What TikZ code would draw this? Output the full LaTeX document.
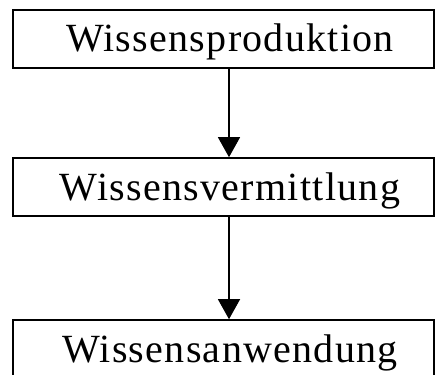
\documentclass[tikz,border=0pt]{standalone}
\usepackage{fontspec}
\setmainfont{Liberation Serif}
\newfontfamily\stagefont[LetterSpace=3.2]{Liberation Serif}
\usepackage{tikz}
\usetikzlibrary{arrows.meta}
\tikzset{>={Triangle[length=20pt,width=22pt]}}
\tikzset{stage/.style={draw, line width=1.6pt, minimum width=421pt, minimum height=58pt,
    inner sep=0pt, text height=30pt, text depth=4pt,
    font=\stagefont\fontsize{40}{40}\selectfont,
    execute at begin node={\hspace*{13pt}}}}

\begin{document}
\begin{tikzpicture}[x=1pt, y=-1pt]
    \useasboundingbox (0, 0) rectangle (435, 374);
    \node[stage] (prod) at (223.5, 39) {Wissensproduktion};
    \node[stage] (verm) at (223.5, 187) {Wissensvermittlung};
    \node[stage] (anw) at (223.5, 349) {Wissensanwendung};
    \draw[line width=1.3pt, ->] ([xshift=5.5pt]prod.south) -- ([xshift=5.5pt]verm.north);
    \draw[line width=1.3pt, ->] ([xshift=5.5pt]verm.south) -- ([xshift=5.5pt]anw.north);
\end{tikzpicture}
\end{document}
